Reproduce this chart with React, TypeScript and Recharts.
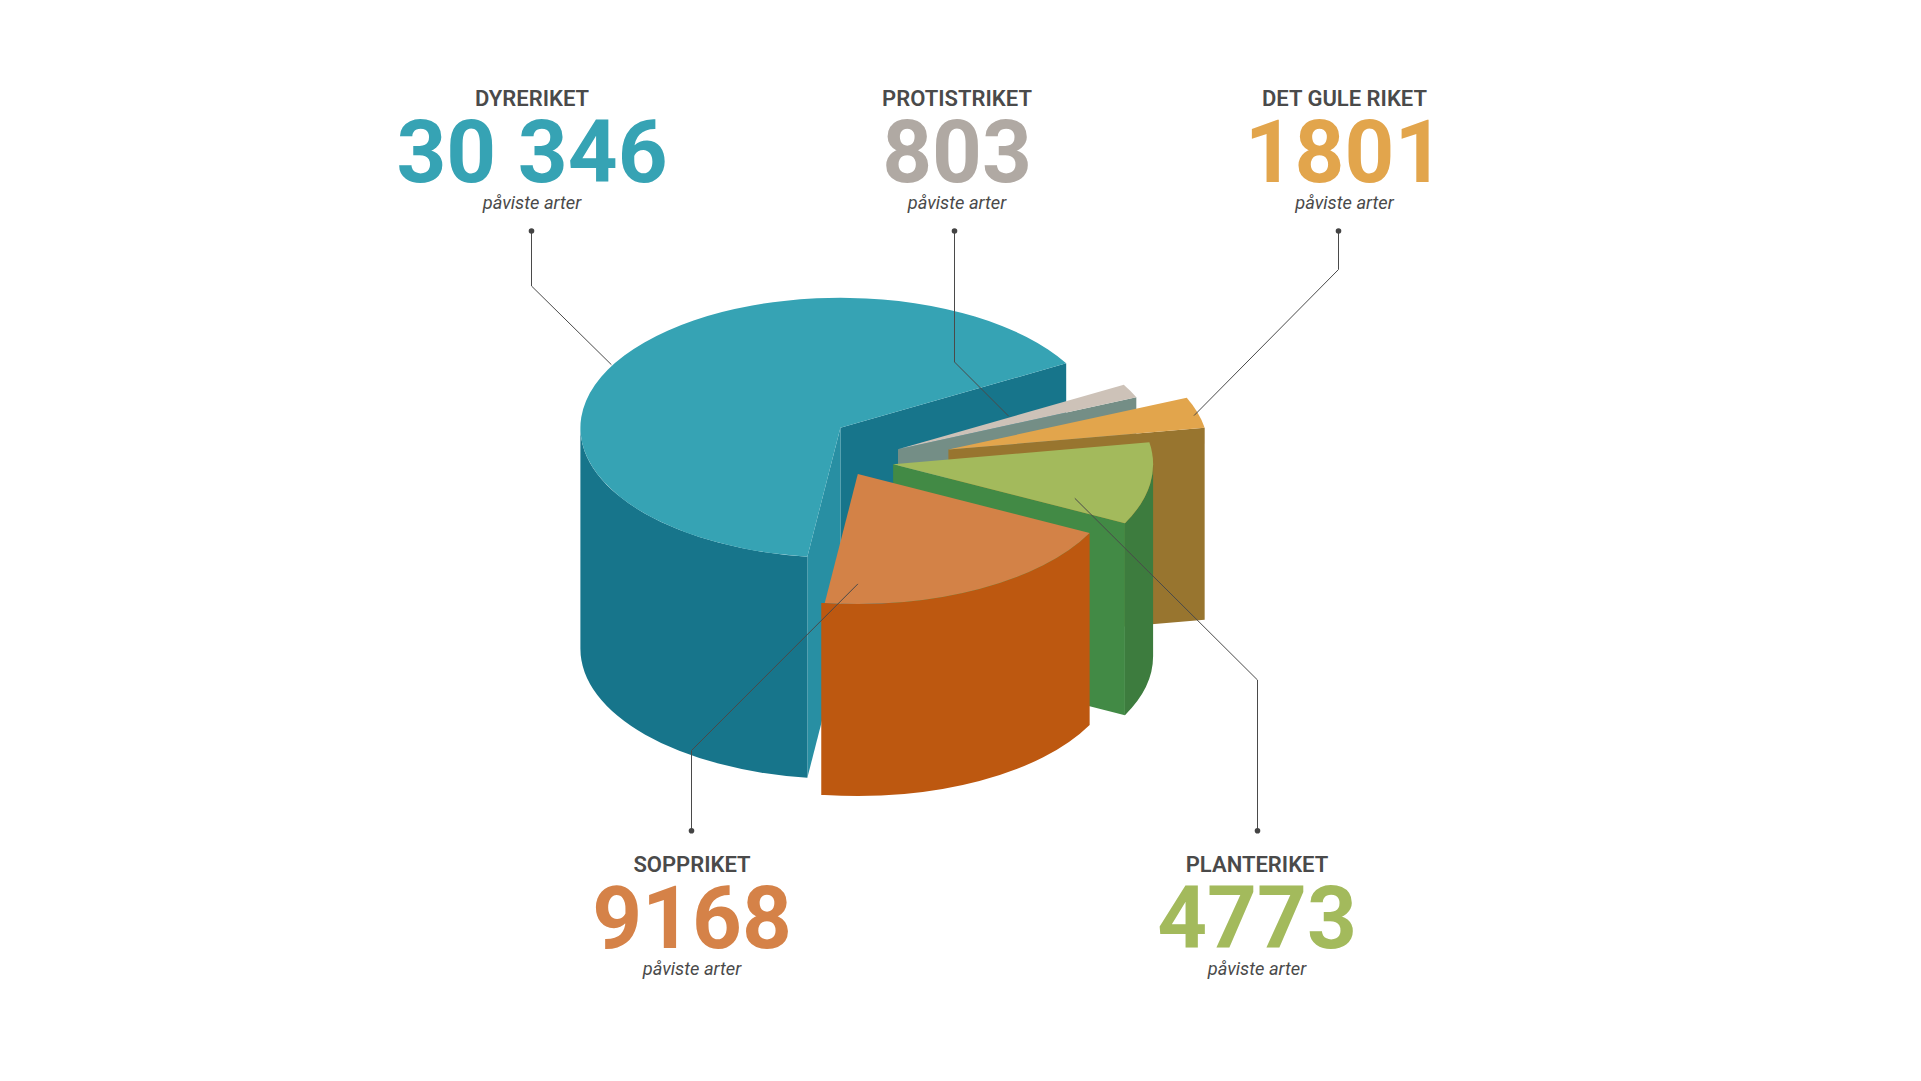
import React from "react";
import { PieChart, Pie } from "recharts";

const kingdoms = ["DYRERIKET", "PROTISTRIKET", "DET GULE RIKET", "PLANTERIKET", "SOPPRIKET"];
const speciesCounts = [30346, 803, 1801, 4773, 9168];
const countLabels = ["30 346", "803", "1801", "4773", "9168"];
const subLabel = "påviste arter";

// slice colours: top, outer wall, first cut face, second cut face
const topColors = ["#36a3b4", "#cdc2b8", "#e2a54c", "#a3ba5c", "#d38247"];
const wallColors = ["#17758b", "#748e86", "#98752f", "#3d7c3e", "#bd5810"];
const startFaceColors = ["#288fa3", "#748e86", "#98752f", "#428a45", "#bd5810"];
const endFaceColors = ["#17758b", "#748e86", "#98752f", "#428a45", "#bd5810"];
const numberColors = ["#36a3b4", "#b0a9a3", "#e2a54c", "#a3ba5c", "#d58248"];

// how far each slice is pulled out of the pie, and how tall it is
const explodeX = [0, 57.6, 108, 52.7, 17.4];
const explodeY = [0, 21.4, 21.8, 36.5, 46.3];
const depths = [221, 192, 192, 192, 192];
// the orange wall sticks out a little past its top face in the original
const wallFlare = [0, 0, 0, 0, 3.5];

// callouts: text centre, first row baseline, leader line points
const calloutX = [532, 957, 1344.5, 1257, 692];
const calloutY = [106, 106, 106, 872, 872];
const leaders = [
  [[531.5, 231], [531.5, 286], [611.4, 364.7]],
  [[954.5, 231], [954.5, 362], [1008.8, 416.3]],
  [[1338.5, 231], [1338.5, 269.5], [1194, 415.6]],
  [[1257.5, 830.7], [1257.5, 680], [1074.8, 498.3]],
  [[691.5, 830.7], [691.5, 750.5], [857.9, 583.9]],
];

const CX = 840.4;
const CY = 427.8;
const RX = 260;
const SQUASH = 0.5;
const TEXT_DARK = "#4a4a4a";
const chartData = kingdoms.map((name, i) => ({ name, value: speciesCounts[i] }));

const rad = (deg: number) => (deg * Math.PI) / 180;

function Slice3D(props: any) {
  const { cx, cy, outerRadius, startAngle, endAngle, name } = props;
  const i = kingdoms.indexOf(name);
  const ax = cx + explodeX[i];
  const ay = cy + explodeY[i];
  const ry = outerRadius * SQUASH;
  const h = depths[i];
  // angles run clockwise in the pie, lo..hi is the same slice counter-clockwise
  const lo = Math.min(startAngle, endAngle);
  const hi = Math.max(startAngle, endAngle);
  const px = (a: number) => ax + outerRadius * Math.cos(rad(a));
  const py = (a: number) => ay - ry * Math.sin(rad(a));
  const arc = (a: number, b: number, dy = 0, sweep = 0) =>
    `A${outerRadius} ${ry} 0 ${Math.abs(b - a) > 180 ? 1 : 0} ${sweep} ${px(b)} ${py(b) + dy}`;

  const face = (a: number, color: string) => (
    <path
      d={`M${ax} ${ay}L${px(a)} ${py(a)}L${px(a)} ${py(a) + h}L${ax} ${ay + h}Z`}
      fill={color}
    />
  );

  // the outer wall only shows on the front half of the ellipse
  const turn = Math.floor((lo + 360) / 360) * 360 - 360;
  const wallLo = Math.max(lo, turn + 180);
  const wallHi = Math.min(hi, turn + 360);
  const hasWall = wallHi > wallLo;
  const flare = wallFlare[i];

  return (
    <g>
      {Math.sin(rad(lo - 90)) < 0 && face(lo, endFaceColors[i])}
      {Math.sin(rad(hi + 90)) < 0 && face(hi, startFaceColors[i])}
      {hasWall && (
        <path
          d={`M${px(wallLo) - flare} ${py(wallLo)}L${px(wallLo)} ${py(wallLo)}${arc(wallLo, wallHi)}L${px(wallHi)} ${py(wallHi) + h}${arc(wallHi, wallLo, h, 1)}L${px(wallLo) - flare} ${py(wallLo) + h}Z`}
          fill={wallColors[i]}
        />
      )}
      <path d={`M${ax} ${ay}L${px(lo)} ${py(lo)}${arc(lo, hi)}Z`} fill={topColors[i]} />
    </g>
  );
}

function Callout(props: any) {
  const i = kingdoms.indexOf(props.name);
  const pts = leaders[i];
  const x = calloutX[i];
  const y = calloutY[i];
  return (
    <g fontFamily="Roboto" textAnchor="middle">
      <polyline
        points={pts.map((p) => p.join(",")).join(" ")}
        fill="none"
        stroke="#4a4a4a"
        strokeWidth={1}
      />
      <circle cx={pts[0][0]} cy={pts[0][1]} r={2.8} fill="#444444" />
      <text x={x} y={y} fontSize={22} fontWeight={600} fill={TEXT_DARK}>
        {kingdoms[i]}
      </text>
      <text x={x} y={y + 75.7} fontSize={87} fontWeight={700} fill={numberColors[i]}>
        {countLabels[i]}
      </text>
      <text x={x} y={y + 103} fontSize={18.3} fontStyle="italic" fontWeight={400} fill={TEXT_DARK}>
        {subLabel}
      </text>
    </g>
  );
}

export default function App() {
  return (
    <div style={{ position: "absolute", left: 0, top: 0, width: 1921, height: 1081, background: "#fff" }}>
      <PieChart width={1921} height={1081} margin={{ top: 0, right: 0, bottom: 0, left: 0 }}>
        <Pie
          data={chartData}
          dataKey="value"
          nameKey="name"
          cx={CX}
          cy={CY}
          innerRadius={0}
          outerRadius={RX}
          startAngle={262.7}
          endAngle={-97.3}
          stroke="none"
          isAnimationActive={false}
          shape={Slice3D}
          activeShape={Slice3D}
          inactiveShape={Slice3D}
          labelLine={false}
          label={Callout}
        />
      </PieChart>
    </div>
  );
}
